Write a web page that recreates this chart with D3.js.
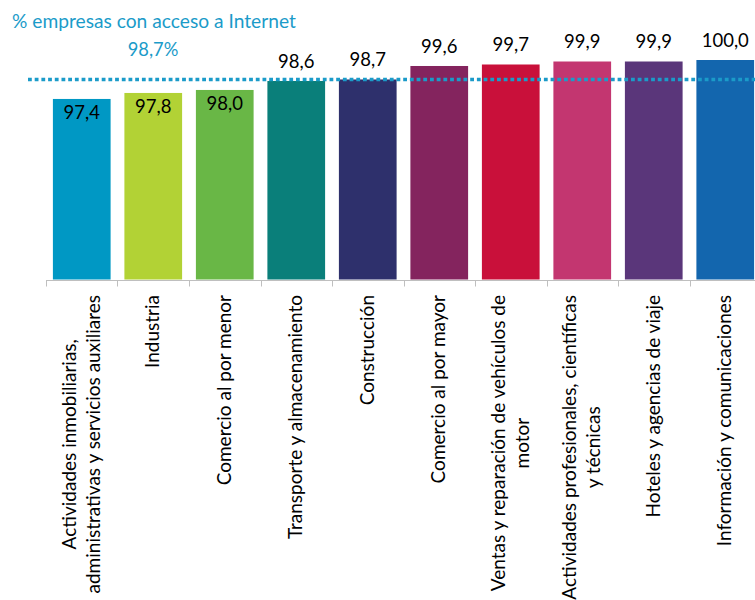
<!DOCTYPE html>
<html>
<head>
<meta charset="utf-8">
<script src="https://cdn.jsdelivr.net/npm/d3@7"></script>
<style>
  html, body { margin: 0; padding: 0; background: #ffffff; }
  svg { display: block; }
  text { font-family: Lato, "Open Sans", sans-serif; }
</style>
</head>
<body>
<svg id="chart" width="755" height="600"></svg>
<script>
const categories = [
  "Actividades inmobiliarias,\nadministrativas y servicios auxiliares",
  "Industria",
  "Comercio al por menor",
  "Transporte y almacenamiento",
  "Construcción",
  "Comercio al por mayor",
  "Ventas y reparación de vehículos de\nmotor",
  "Actividades profesionales, científicas\ny técnicas",
  "Hoteles y agencias de viaje",
  "Información y comunicaciones"
];
const values = [97.4, 97.8, 98.0, 98.6, 98.7, 99.6, 99.7, 99.9, 99.9, 100.0];
const barColors = ["#0098C4", "#B2D235", "#69B746", "#0A7F7A", "#2E306C", "#84245E", "#C9103A", "#C33670", "#5A367A", "#1366AE"];
const referenceValue = 98.7;
const referenceLabel = "98,7%";
const titleText = "% empresas con acceso a Internet";
const yDomain = [85.35, 100];

const fmt = v => d3.format(".1f")(v).replace(".", ",");

const svg = d3.select("#chart");
const accent = "#1B9BC9";

const x = d3.scaleBand()
  .domain(categories)
  .range([46, 761])
  .paddingInner(0.193)
  .paddingOuter(0.0965);

const y = d3.scaleLinear().domain(yDomain).range([279.5, 60]);

// Bars
svg.append("g").selectAll("rect")
  .data(values)
  .join("rect")
  .attr("x", (d, i) => x(categories[i]))
  .attr("y", d => y(d))
  .attr("width", x.bandwidth())
  .attr("height", d => y(yDomain[0]) - y(d))
  .attr("fill", (d, i) => barColors[i]);

// Axis line + boundary ticks
const axisG = svg.append("g").attr("stroke", "#BFBFBF").attr("stroke-width", 1);
const y0 = Math.round(y(yDomain[0])) + 0.5;
axisG.append("line")
  .attr("x1", x.range()[0]).attr("x2", x.range()[1])
  .attr("y1", y0).attr("y2", y0);
const boundaries = categories.map(c => x(c) - (x.step() - x.bandwidth()) / 2).concat([x.range()[1]]);
axisG.selectAll("line.tick")
  .data(boundaries)
  .join("line")
  .attr("class", "tick")
  .attr("x1", d => Math.round(d) + 0.5).attr("x2", d => Math.round(d) + 0.5)
  .attr("y1", y0).attr("y2", y0 + 6);

// Reference dotted line
svg.append("line")
  .attr("x1", 28).attr("x2", 755)
  .attr("y1", y(referenceValue)).attr("y2", y(referenceValue))
  .attr("stroke", accent)
  .attr("stroke-width", 3.6)
  .attr("stroke-dasharray", "3.8 2.9");

// Title and reference label
svg.append("text")
  .attr("x", 12).attr("y", 28)
  .attr("fill", accent)
  .attr("font-size", 19.2)
  .text(titleText);
svg.append("text")
  .attr("x", 153).attr("y", 56)
  .attr("text-anchor", "middle")
  .attr("fill", accent)
  .attr("font-size", 18.3)
  .text(referenceLabel);

// Value labels
svg.append("g").selectAll("text")
  .data(values)
  .join("text")
  .attr("x", (d, i) => x(categories[i]) + x.bandwidth() / 2)
  .attr("y", d => d <= 98.0 ? y(d) + 20 : y(d) - 13)
  .attr("text-anchor", "middle")
  .attr("fill", "#000000")
  .attr("font-size", 18.5)
  .text(d => fmt(d));

// Category labels (rotated, centered lines, top anchored)
const labelTop = 295;
const lineH = 24;
const catG = svg.append("g");
categories.forEach((c, i) => {
  const lines = c.split("\n");
  const cx = x(c) + x.bandwidth() / 2;
  const g = catG.append("g");
  const texts = lines.map((ln, k) => g.append("text")
    .attr("font-size", 19)
    .attr("fill", "#000000")
    .attr("text-anchor", "middle")
    .text(ln));
  const maxLen = d3.max(texts, t => t.node().getComputedTextLength());
  const cy = labelTop + maxLen / 2;
  texts.forEach((t, k) => {
    const off = (k - (lines.length - 1) / 2) * lineH;
    t.attr("transform", `translate(${cx + off + 6},${cy}) rotate(-90)`);
  });
});
</script>
</body>
</html>
